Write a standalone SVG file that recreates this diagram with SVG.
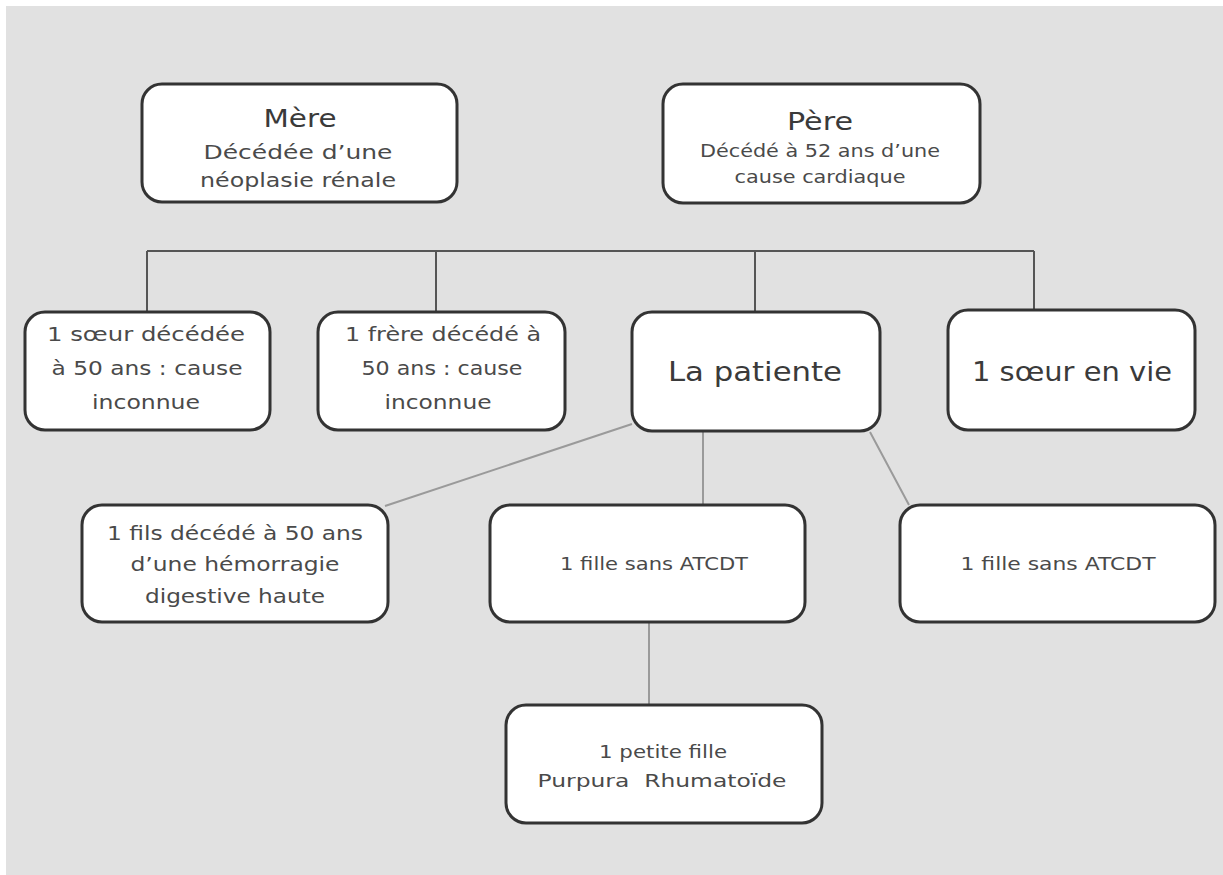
<svg xmlns="http://www.w3.org/2000/svg" width="1223" height="875" viewBox="0 0 1223 875">
<style>
.box{fill:#ffffff;stroke:#333333;stroke-width:3}
.t{font-family:"DejaVu Sans","Liberation Sans",sans-serif;fill:#4a4a4a;text-anchor:middle}
.h{font-size:25px;fill:#3a3a3a}
.s{font-size:20px}
.m{font-size:20px}
.b{font-size:27px;fill:#3a3a3a}
.f{font-size:18px}
.top{stroke:#555555;stroke-width:2;fill:none}
.low{stroke:#9a9a9a;stroke-width:2;fill:none}
</style>
<rect x="0" y="0" width="1223" height="875" fill="#ffffff"/>
<rect x="6" y="6" width="1217" height="869" fill="#e1e1e1"/>
<g id="connectors">
<path class="top" d="M147 251 H1034 M147 251 V312 M436 251 V312 M755 251 V312 M1034 251 V310"/>
<path class="low" d="M632 424 L385 506 M703 431 V505 M870 432 L909 505 M649 622 V705"/>
</g>
<g id="mere">
<rect class="box" x="142" y="84" width="315" height="118" rx="20"/>
<text class="t h" x="300" y="127" textLength="73" lengthAdjust="spacingAndGlyphs">Mère</text>
<text class="t s" x="298" y="159" textLength="189" lengthAdjust="spacingAndGlyphs">Décédée d’une</text>
<text class="t s" x="298" y="187" textLength="196" lengthAdjust="spacingAndGlyphs">néoplasie rénale</text>
</g>
<g id="pere">
<rect class="box" x="663" y="84" width="317" height="119" rx="20"/>
<text class="t h" x="820" y="130" textLength="66" lengthAdjust="spacingAndGlyphs">Père</text>
<text class="t f" x="820" y="157" textLength="240" lengthAdjust="spacingAndGlyphs">Décédé à 52 ans d’une</text>
<text class="t f" x="820" y="183" textLength="171" lengthAdjust="spacingAndGlyphs">cause cardiaque</text>
</g>
<g id="soeur1">
<rect class="box" x="25" y="312" width="245" height="118" rx="20"/>
<text class="t m" x="146" y="341" textLength="198" lengthAdjust="spacingAndGlyphs">1 sœur décédée</text>
<text class="t m" x="147" y="375" textLength="191" lengthAdjust="spacingAndGlyphs">à 50 ans : cause</text>
<text class="t m" x="146" y="409" textLength="108" lengthAdjust="spacingAndGlyphs">inconnue</text>
</g>
<g id="frere">
<rect class="box" x="318" y="312" width="247" height="118" rx="20"/>
<text class="t m" x="443" y="341" textLength="196" lengthAdjust="spacingAndGlyphs">1 frère décédé à</text>
<text class="t m" x="442" y="375" textLength="161" lengthAdjust="spacingAndGlyphs">50 ans : cause</text>
<text class="t m" x="438" y="409" textLength="107" lengthAdjust="spacingAndGlyphs">inconnue</text>
</g>
<g id="patiente">
<rect class="box" x="632" y="312" width="248" height="119" rx="20"/>
<text class="t b" x="755" y="381" textLength="174" lengthAdjust="spacingAndGlyphs">La patiente</text>
</g>
<g id="soeur2">
<rect class="box" x="948" y="310" width="247" height="120" rx="20"/>
<text class="t b" x="1072" y="381" textLength="200" lengthAdjust="spacingAndGlyphs">1 sœur en vie</text>
</g>
<g id="fils">
<rect class="box" x="82" y="505" width="306" height="117" rx="20"/>
<text class="t m" x="235" y="540" textLength="256" lengthAdjust="spacingAndGlyphs">1 fils décédé à 50 ans</text>
<text class="t m" x="235" y="571" textLength="209" lengthAdjust="spacingAndGlyphs">d’une hémorragie</text>
<text class="t m" x="235" y="603" textLength="180" lengthAdjust="spacingAndGlyphs">digestive haute</text>
</g>
<g id="fille1">
<rect class="box" x="490" y="505" width="315" height="117" rx="20"/>
<text class="t f" x="654" y="570" textLength="188" lengthAdjust="spacingAndGlyphs">1 fille sans ATCDT</text>
</g>
<g id="fille2">
<rect class="box" x="900" y="505" width="315" height="117" rx="20"/>
<text class="t f" x="1058" y="570" textLength="195" lengthAdjust="spacingAndGlyphs">1 fille sans ATCDT</text>
</g>
<g id="petitefille">
<rect class="box" x="506" y="705" width="316" height="118" rx="20"/>
<text class="t f" x="663" y="758" textLength="128" lengthAdjust="spacingAndGlyphs">1 petite fille</text>
<text class="t f" x="662" y="787" textLength="249" lengthAdjust="spacingAndGlyphs" xml:space="preserve">Purpura  Rhumatoïde</text>
</g>
</svg>
